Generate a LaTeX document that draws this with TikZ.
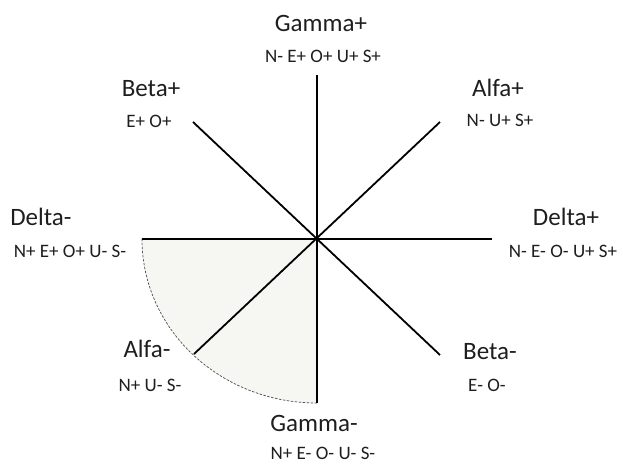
\documentclass[tikz,border=0pt]{standalone}
\usepackage{fontspec}
\setmainfont{Carlito}
\definecolor{sectorfill}{RGB}{246,246,243}
\definecolor{txt}{RGB}{30,30,30}
\begin{document}
\begin{tikzpicture}[x=1pt,y=1pt,
  axisline/.style={line width=2.6pt,black},
  diagline/.style={line width=1.8pt,black},
  arcline/.style={line width=0.7pt,black!70,dash pattern=on 2.5pt off 1.5pt},
  biglabel/.style={anchor=base,inner sep=0pt,font=\fontsize{25}{28}\selectfont,text=txt},
  smalllabel/.style={anchor=base,inner sep=0pt,font=\fontsize{19}{22}\selectfont,text=txt}]
\useasboundingbox (0,0) rectangle (623,465);
\coordinate (C) at (317,226);
\coordinate (L) at (142,226);
\coordinate (R) at (492,226);
\coordinate (T) at (317,390);
\coordinate (B) at (317,62);
\coordinate (TR) at (440,343);
\coordinate (TL) at (193,343);
\coordinate (BL) at (194,111);
\coordinate (BR) at (440,110);
% shaded sector
\fill[sectorfill] (C) -- (L) arc[start angle=180,end angle=270,x radius=175,y radius=164] -- cycle;
\draw[arcline] (L) arc[start angle=180,end angle=270,x radius=175,y radius=164];
% axes
\draw[axisline] (L) -- (R);
\draw[axisline] (T) -- (B);
\draw[diagline] (TL) -- (BR);
\draw[diagline] (TR) -- (BL);
% labels
\node[biglabel] (gp) at (321,433) {Gamma+};
\node[smalllabel] (gps) at (323,402) {N- E+ O+ U+ S+};
\node[biglabel] (bp) at (151,368) {Beta+};
\node[smalllabel] (bps) at (149,337) {E+ O+};
\node[biglabel] (ap) at (498,368) {Alfa+};
\node[smalllabel] (aps) at (500,338) {N- U+ S+};
\node[biglabel] (dm) at (41,239) {Delta-};
\node[smalllabel] (dms) at (70,207) {N+ E+ O+ U- S-};
\node[biglabel] (dp) at (566,239) {Delta+};
\node[smalllabel] (dps) at (563,207) {N- E- O- U+ S+};
\node[biglabel] (am) at (147,107) {Alfa-};
\node[smalllabel] (ams) at (150,73) {N+ U- S-};
\node[biglabel] (bm) at (490,105) {Beta-};
\node[smalllabel] (bms) at (487,73) {E- O-};
\node[biglabel] (gm) at (314,33) {Gamma-};
\node[smalllabel] (gms) at (323,5) {N+ E- O- U- S-};
\end{tikzpicture}
\end{document}
